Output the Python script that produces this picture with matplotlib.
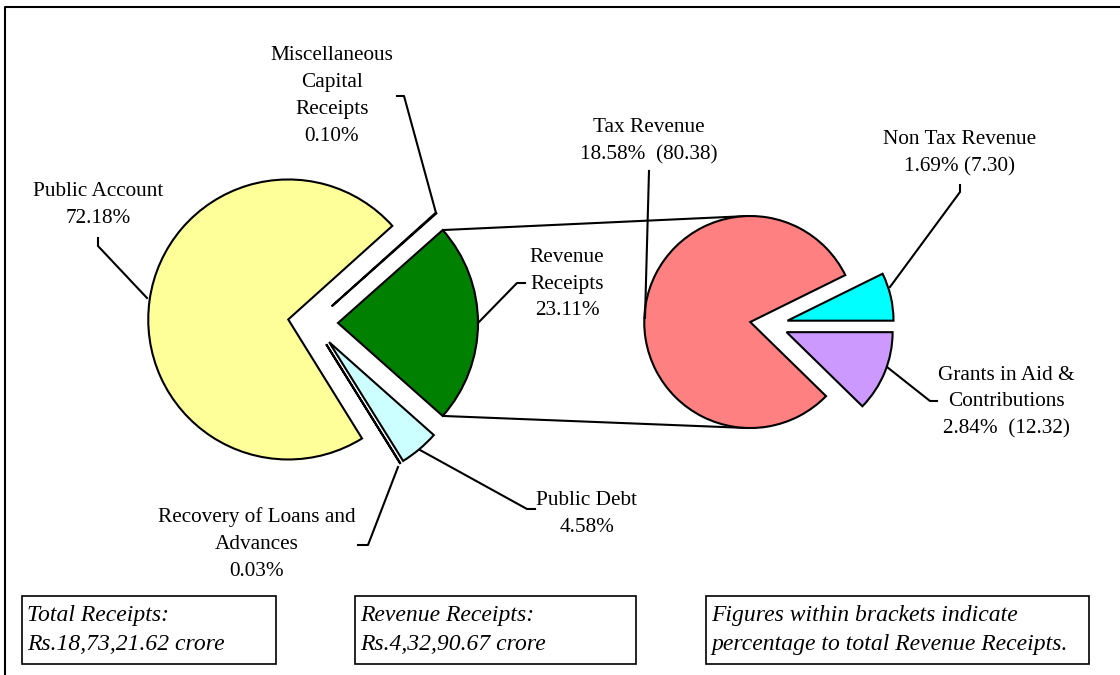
import matplotlib.pyplot as plt
import numpy as np
from matplotlib.patches import Rectangle

plt.rcParams["font.family"] = ["Liberation Serif", "DejaVu Serif"]

# ----------- data -------------------
main_labels = ["Revenue Receipts", "Miscellaneous Capital Receipts", "Public Account",
               "Recovery of Loans and Advances", "Public Debt"]
main_values = [23.11, 0.10, 72.18, 0.03, 4.58]
main_colors = ["#008000", "#333333", "#FFFF99", "#FFFFFF", "#CCFFFF"]

rev_labels = ["Grants in Aid & Contributions", "Non Tax Revenue", "Tax Revenue"]
rev_values = [12.32, 7.30, 80.38]          # % of revenue receipts
rev_share_total = [2.84, 1.69, 18.58]      # % of total receipts
rev_colors = ["#CC99FF", "#00FFFF", "#FF8080"]

W, H = 1120, 675
fig = plt.figure(figsize=(W / 100, H / 100), dpi=100)
ax = fig.add_axes([0, 0, 1, 1])

# pixel-like coords, y pointing down
main_c, main_r, main_ex = (313, 323), 140, 25
rev_c, rev_r, rev_ex = (769, 325), 106, 19
wp = dict(edgecolor="black", linewidth=1.5)

start_main = main_values[0] * 3.6 / 2
w_main, _ = ax.pie(main_values, colors=main_colors, center=main_c, radius=main_r,
                   explode=[main_ex] * 5, startangle=start_main, counterclock=False,
                   wedgeprops=wp)
start_rev = rev_values[0] * 3.6
w_rev, _ = ax.pie(rev_values, colors=rev_colors, center=rev_c, radius=rev_r,
                  explode=[rev_ex] * 3, startangle=start_rev, counterclock=False,
                  wedgeprops=wp)

# connector lines between the pies
g = w_main[0]
gx, gy = g.center
tax = w_rev[2]
tx, ty = tax.center
for ang, sy in [(g.theta1, -1), (g.theta2, 1)]:
    px = gx + main_r * np.cos(np.radians(ang))
    py = gy + main_r * np.sin(np.radians(ang))
    ax.plot([px, tx - 2], [py, ty + sy * rev_r], color="black", lw=1.5,
            solid_capstyle="butt", zorder=0.5)

# ----------- labels -------------------
fs = 15.3
labels = [
    ("Public Account\n72.18%", 98, 205, [(98, 238), (98, 246), (147, 298)]),
    ("Miscellaneous\nCapital\nReceipts\n0.10%", 332, 96, [(397, 96), (404, 96), (436, 213)]),
    ("Revenue\nReceipts\n23.11%", 567, 284, [(525, 283), (517, 283), (478, 323)]),
    ("Tax Revenue\n18.58%  (80.38)", 649, 141, [(649, 171), (645, 318)]),
    ("Non Tax Revenue\n1.69% (7.30)", 960, 153, [(960, 185), (960, 192), (890, 287)]),
    ("Grants in Aid &\nContributions\n2.84%  (12.32)", 1006, 402, [(937, 401), (930, 401), (887, 367)]),
    ("Recovery of Loans and\nAdvances\n0.03%", 257, 544, [(358, 545), (368, 545), (398, 467)]),
    ("Public Debt\n4.58%", 587, 514, [(535, 509), (527, 509), (420, 450)]),
]
for txt, x, y, pts in labels:
    ax.text(x, y, txt, ha="center", va="center", fontsize=fs, linespacing=1.55)
    xs, ys = zip(*pts)
    ax.plot(xs, ys, color="black", lw=1.5)

# ----------- note boxes -------------------
boxes = [
    (22, 596, 254, 68, "Total Receipts:\nRs.18,73,21.62 crore"),
    (355, 596, 281, 68, "Revenue Receipts:\nRs.4,32,90.67 crore"),
    (706, 596, 383, 68, "Figures within brackets indicate\npercentage to total Revenue Receipts."),
]
for x, y, w, h, txt in boxes:
    ax.add_patch(Rectangle((x, y), w, h, fill=False, edgecolor="black", lw=1.2))
    ax.text(x + 5, y + h / 2, txt, ha="left", va="center", fontsize=17,
            style="italic", linespacing=1.45)

# outer frame
ax.plot([5, 5, W + 5], [H + 5, 7, 7], color="black", lw=1.5)

ax.set_xlim(0, W)
ax.set_ylim(H, 0)
ax.set_aspect("equal")
ax.axis("off")
fig.savefig("out.png", dpi=100)
